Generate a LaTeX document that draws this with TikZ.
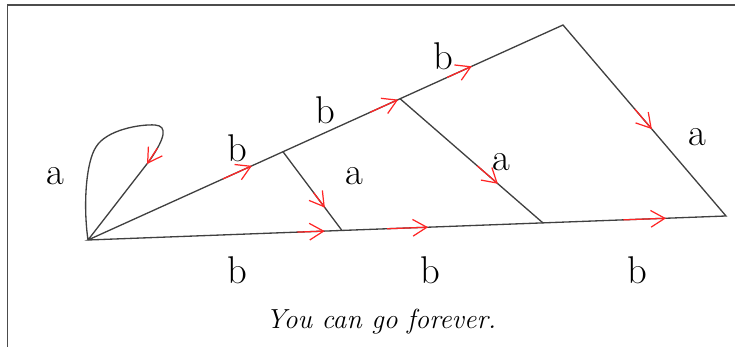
\documentclass[tikz,border=0pt]{standalone}
\usepackage{tikz}
\usetikzlibrary{arrows.meta,calc}

\begin{document}
\begin{tikzpicture}[x=0.02cm, y=-0.02cm,
    edge/.style={draw=black!75, line width=0.75pt},
    arr/.style={draw=red!85, line width=0.7pt, -{Straight Barb[length=8pt,width=9.5pt]}},
    lbl/.style={font=\fontsize{22}{25}\selectfont, inner sep=0pt},
    frame/.style={draw=black!70, line width=1.1pt}
]
\useasboundingbox (0,0) rectangle (735,347);
\draw[frame] (7.5,347) -- (7.5,5) -- (735,5);

% corners of the big triangle
\coordinate (o) at (88,240);
\coordinate (top) at (563,25);
\coordinate (rt) at (726,216);
% points on the upper and lower sides
\coordinate (p1) at ($(o)!0.4105!(top)$);
\coordinate (p2) at ($(o)!0.657!(top)$);
\coordinate (q1) at ($(o)!0.398!(rt)$);
\coordinate (q2) at ($(o)!0.713!(rt)$);
\coordinate (la) at (157.5,148);
\coordinate (lb) at (147,164);

\draw[edge] (o) -- (top) -- (rt) -- cycle;
\draw[edge] (p1) -- (q1);
\draw[edge] (p2) -- (q2);
\draw[edge] (o) .. controls (83,205) and (86,162) .. (96,147)
    .. controls (106,130) and (140,124) .. (155,125)
    .. controls (168,126) and (165,138) .. (150,160) -- (o);

% arrows
\draw[arr] (la) -- (lb);
\draw[arr] ($(o)!0.284!(top)$) -- ($(o)!0.345!(top)$);
\draw[arr] ($(o)!0.594!(top)$) -- ($(o)!0.653!(top)$);
\draw[arr] ($(o)!0.756!(top)$) -- ($(o)!0.808!(top)$);
\draw[arr] ($(o)!0.328!(rt)$) -- ($(o)!0.371!(rt)$);
\draw[arr] ($(o)!0.469!(rt)$) -- ($(o)!0.533!(rt)$);
\draw[arr] ($(o)!0.839!(rt)$) -- ($(o)!0.906!(rt)$);
\draw[arr] ($(top)!0.44!(rt)$) -- ($(top)!0.545!(rt)$);
\draw[arr] ($(p1)!0.52!(q1)$) -- ($(p1)!0.71!(q1)$);
\draw[arr] ($(p2)!0.54!(q2)$) -- ($(p2)!0.685!(q2)$);

% labels
\node[lbl] (aloop) at (55,176) {a};
\node[lbl] (bup1) at (237,148) {b};
\node[lbl] (bup2) at (325,110) {b};
\node[lbl] (bup3) at (443,56) {b};
\node[lbl] (amid1) at (354,176) {a};
\node[lbl] (amid2) at (501,162) {a};
\node[lbl] (aright) at (697,137) {a};
\node[lbl] (blow1) at (237,270) {b};
\node[lbl] (blow2) at (430,270) {b};
\node[lbl] (blow3) at (637,270) {b};

\node[font=\fontsize{15.7}{18}\selectfont\itshape] (cap) at (381,322) {You can go forever.};
\end{tikzpicture}
\end{document}
